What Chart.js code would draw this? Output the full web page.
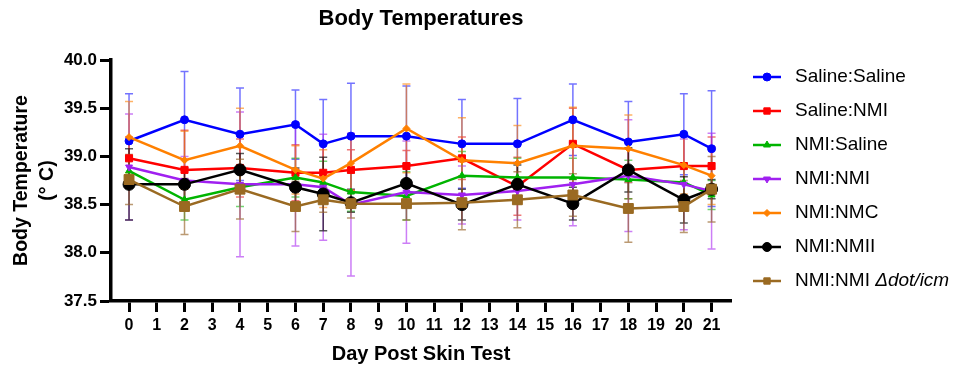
<!DOCTYPE html>
<html>
<head>
<meta charset="utf-8">
<script src="https://cdn.jsdelivr.net/npm/chart.js@4.4.1/dist/chart.umd.min.js"></script>
<style>
  html, body { margin: 0; padding: 0; background: #fff; }
  #wrap { width: 954px; height: 370px; }
</style>
</head>
<body>
<div id="wrap"><canvas id="chart" width="954" height="370"></canvas></div>
<script>
// days sampled
let days = [0, 2, 4, 6, 7, 8, 10, 12, 14, 16, 18, 20, 21];
let xTickDays = [0,1,2,3,4,5,6,7,8,9,10,11,12,13,14,15,16,17,18,19,20,21];
let yTickValues = [37.5, 38.0, 38.5, 39.0, 39.5, 40.0];

// group means (deg C)
let salineSaline = [39.16, 39.38, 39.23, 39.33, 39.13, 39.21, 39.21, 39.13, 39.13, 39.38, 39.15, 39.23, 39.08];
let salineNMI    = [38.98, 38.86, 38.88, 38.83, 38.83, 38.86, 38.90, 38.98, 38.69, 39.13, 38.86, 38.90, 38.90];
let nmiSaline    = [38.85, 38.55, 38.68, 38.78, 38.73, 38.63, 38.59, 38.80, 38.78, 38.78, 38.76, 38.73, 38.60];
let nmiNMI       = [38.89, 38.75, 38.71, 38.71, 38.68, 38.50, 38.63, 38.60, 38.64, 38.71, 38.80, 38.71, 38.64];
let nmiNMC       = [39.20, 38.96, 39.11, 38.86, 38.77, 38.93, 39.29, 38.96, 38.93, 39.11, 39.08, 38.91, 38.80];
let nmiNMII      = [38.71, 38.71, 38.86, 38.68, 38.61, 38.52, 38.72, 38.50, 38.71, 38.51, 38.86, 38.55, 38.66];
let nmiNMIdot    = [38.76, 38.48, 38.66, 38.48, 38.55, 38.51, 38.51, 38.52, 38.55, 38.60, 38.46, 38.48, 38.66];

// error (+/-)
let salineSalineErr = [0.49, 0.50, 0.48, 0.36, 0.46, 0.55, 0.52, 0.46, 0.47, 0.37, 0.42, 0.42, 0.60];
let salineNMIErr    = [0.22, 0.41, 0.30, 0.29, 0.30, 0.21, 0.16, 0.22, 0.30, 0.37, 0.30, 0.31, 0.30];
let nmiSalineErr    = [0.15, 0.21, 0.20, 0.20, 0.22, 0.20, 0.25, 0.25, 0.20, 0.20, 0.20, 0.20, 0.15];
let nmiNMIErr       = [0.55, 0.25, 0.75, 0.64, 0.55, 0.74, 0.53, 0.30, 0.30, 0.43, 0.58, 0.47, 0.60];
let nmiNMCErr       = [0.37, 0.30, 0.39, 0.25, 0.30, 0.28, 0.46, 0.44, 0.39, 0.40, 0.35, 0.30, 0.30];
let nmiNMIIErr      = [0.37, 0.15, 0.17, 0.20, 0.38, 0.10, 0.20, 0.16, 0.20, 0.17, 0.23, 0.24, 0.10];
let nmiNMIdotErr    = [0.26, 0.29, 0.31, 0.26, 0.13, 0.15, 0.17, 0.28, 0.29, 0.22, 0.35, 0.27, 0.34];

let FONT = "'Liberation Sans', Arial, sans-serif";

let groups = [
  {label: "Saline:Saline", vals: salineSaline, err: salineSalineErr, color: "#0000ff", err_color: "rgba(0,0,255,0.55)", style: "circle", r: 4},
  {label: "Saline:NMI", vals: salineNMI, err: salineNMIErr, color: "#ff0000", err_color: "rgba(230,30,30,0.6)", style: "rect", r: 5},
  {label: "NMI:Saline", vals: nmiSaline, err: nmiSalineErr, color: "#00b400", err_color: "rgba(0,180,0,0.55)", style: "triangle", r: 4},
  {label: "NMI:NMI", vals: nmiNMI, err: nmiNMIErr, color: "#a020f0", err_color: "rgba(170,40,240,0.6)", style: "triangle", rot: 180, r: 4},
  {label: "NMI:NMC", vals: nmiNMC, err: nmiNMCErr, color: "#ff8000", err_color: "rgba(255,128,0,0.6)", style: "rectRot", r: 3.5},
  {label: "NMI:NMII", vals: nmiNMII, err: nmiNMIIErr, color: "#000000", err_color: "rgba(0,0,0,0.65)", style: "circle", r: 6},
  {label: "NMI:NMI", vals: nmiNMIdot, err: nmiNMIdotErr, color: "#9a6a22", err_color: "rgba(150,100,40,0.65)", style: "rect", r: 7, italic: " \u0394dot/icm"}
];

let datasets = groups.map((g, i) => ({
  label: g.label,
  data: days.map((d, k) => ({x: d, y: g.vals[k]})),
  borderColor: g.color,
  backgroundColor: g.color,
  borderWidth: 2.5,
  pointStyle: g.style,
  pointRotation: g.rot || 0,
  pointRadius: g.r,
  pointBorderWidth: 1,
  tension: 0,
  order: groups.length - 1 - i
}));

// error bars, under the lines
let errorBars = {
  id: "errorBars",
  beforeDatasetsDraw(chart) {
    let ctx = chart.ctx;
    let xs = chart.scales.x, ys = chart.scales.y;
    ctx.save();
    ctx.lineWidth = 1.5;
    groups.forEach(g => {
      ctx.strokeStyle = g.err_color;
      days.forEach((d, k) => {
        let px = xs.getPixelForValue(d);
        let top = ys.getPixelForValue(g.vals[k] + g.err[k]);
        let bot = ys.getPixelForValue(g.vals[k] - g.err[k]);
        ctx.beginPath();
        ctx.moveTo(px, top); ctx.lineTo(px, bot);
        ctx.moveTo(px - 4, top); ctx.lineTo(px + 4, top);
        ctx.moveTo(px - 4, bot); ctx.lineTo(px + 4, bot);
        ctx.stroke();
      });
    });
    ctx.restore();
  }
};

// title + legend drawn by hand so positions match
let decorations = {
  id: "decorations",
  afterDraw(chart) {
    let ctx = chart.ctx;
    let area = chart.chartArea;
    ctx.save();
    ctx.fillStyle = "#000";
    ctx.font = "bold 22px " + FONT;
    ctx.textAlign = "center";
    ctx.textBaseline = "middle";
    ctx.fillText("Body Temperatures", (area.left + area.right) / 2, 19);

    ctx.textAlign = "left";
    groups.forEach((g, i) => {
      let cy = 77 + i * 34;
      ctx.strokeStyle = g.color;
      ctx.lineWidth = 2.5;
      ctx.beginPath();
      ctx.moveTo(753, cy); ctx.lineTo(781, cy);
      ctx.stroke();
      ctx.fillStyle = g.color;
      ctx.strokeStyle = g.color;
      ctx.lineWidth = 1;
      Chart.helpers.drawPoint(ctx, {pointStyle: g.style, rotation: g.rot || 0, radius: Math.min(g.r, 4.5), borderWidth: 1}, 767, cy);
      ctx.fillStyle = "#000";
      ctx.font = "19px " + FONT;
      ctx.fillText(g.label, 795, cy);
      if (g.italic) {
        let w = ctx.measureText(g.label).width;
        ctx.font = "italic 19px " + FONT;
        ctx.fillText(g.italic, 795 + w, cy);
      }
    });
    ctx.restore();
  }
};

new Chart(document.getElementById("chart"), {
  type: "line",
  data: { datasets: datasets },
  plugins: [errorBars, decorations],
  options: {
    responsive: false,
    animation: false,
    layout: { padding: { top: 60, right: 223, left: 0, bottom: 0 } },
    plugins: { legend: { display: false }, title: { display: false }, tooltip: { enabled: false } },
    scales: {
      x: {
        type: "linear",
        min: -0.65,
        max: 21.7,
        afterBuildTicks(s) { s.ticks = xTickDays.map(v => ({value: v})); },
        afterFit(s) { s.height = 69; },
        grid: { drawOnChartArea: false, tickLength: 11, tickWidth: 3, tickColor: "#000" },
        border: { display: true, width: 3.5, color: "#000" },
        ticks: { color: "#000", font: { family: FONT, size: 16, weight: "bold" }, padding: 4, maxRotation: 0, autoSkip: false },
        title: { display: true, text: "Day Post Skin Test", color: "#000", font: { family: FONT, size: 20, weight: "bold" }, padding: { top: 3 } }
      },
      y: {
        min: 37.5,
        max: 40,
        afterBuildTicks(s) { s.ticks = yTickValues.map(v => ({value: v})); },
        afterFit(s) { s.width = 111; },
        grid: { drawOnChartArea: false, tickLength: 11, tickWidth: 3, tickColor: "#000" },
        border: { display: true, width: 3.5, color: "#000" },
        ticks: { color: "#000", font: { family: FONT, size: 17, weight: "bold" }, padding: 3, callback: v => Number(v).toFixed(1) },
        title: { display: true, text: ["Body Temperature", "(\u00b0 C)"], color: "#000", font: { family: FONT, size: 19.5, weight: "bold", lineHeight: 1.35 }, padding: { top: 8, bottom: 0 } }
      }
    }
  }
});
</script>
</body>
</html>
